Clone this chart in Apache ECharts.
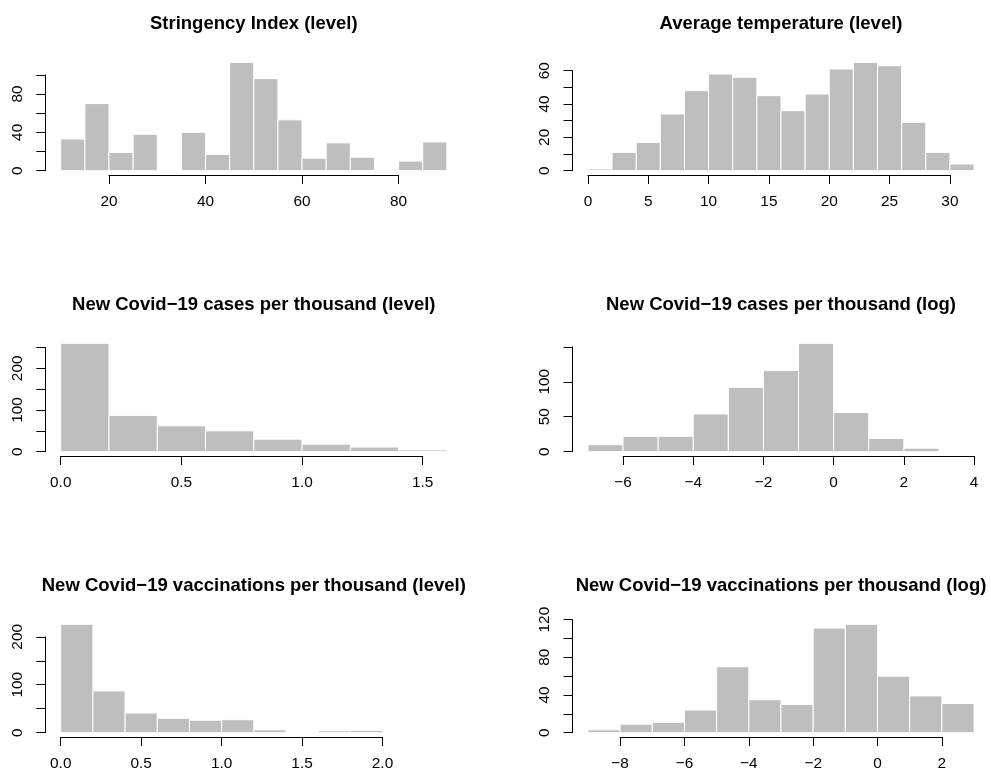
<!DOCTYPE html>
<html><head><meta charset="utf-8">
<script src="https://cdn.jsdelivr.net/npm/echarts@6/dist/echarts.min.js"></script>
<style>html,body{margin:0;padding:0;background:#fff}#chart{width:991px;height:779px}</style>
</head><body><div id="chart"></div>
<script>
// ---------------- data ----------------
const stringencyBreaks = [10,15,20,25,30,35,40,45,50,55,60,65,70,75,80,85,90];
const stringencyCounts = [33,70,19,38,0,40,17,113,96,53,13,29,14,0,10,30];
const stringencyXTicks = [20,40,60,80];
const stringencyYTicks = [0,20,40,60,80,100];
const stringencyYLabels = [0,40,80];

const temperatureBreaks = [0,2,4,6,8,10,12,14,16,18,20,22,24,26,28,30,32];
const temperatureCounts = [1,11,17,34,48,58,56,45,36,46,61,65,63,29,11,4];
const temperatureXTicks = [0,5,10,15,20,25,30];
const temperatureYTicks = [0,10,20,30,40,50,60];
const temperatureYLabels = [0,20,40,60];

const casesLevelBreaks = [0,0.2,0.4,0.6,0.8,1.0,1.2,1.4,1.6];
const casesLevelCounts = [260,87,62,50,30,18,11,4];
const casesLevelXTicks = [0,0.5,1.0,1.5];
const casesLevelYTicks = [0,50,100,150,200,250];
const casesLevelYLabels = [0,100,200];

const casesLogBreaks = [-7,-6,-5,-4,-3,-2,-1,0,1,2,3,4];
const casesLogCounts = [10,22,22,54,92,116,155,56,19,5,0];
const casesLogXTicks = [-6,-4,-2,0,2,4];
const casesLogYTicks = [0,50,100,150];
const casesLogYLabels = [0,50,100];

const vaccLevelBreaks = [0,0.2,0.4,0.6,0.8,1.0,1.2,1.4,1.6,1.8,2.0,2.2,2.4];
const vaccLevelCounts = [226,87,41,30,26,27,6,0,4,5,0,1];
const vaccLevelXTicks = [0,0.5,1.0,1.5,2.0];
const vaccLevelYTicks = [0,50,100,150,200];
const vaccLevelYLabels = [0,100,200];

const vaccLogBreaks = [-9,-8,-7,-6,-5,-4,-3,-2,-1,0,1,2,3];
const vaccLogCounts = [3,9,11,24,70,35,30,111,115,60,39,31];
const vaccLogXTicks = [-8,-6,-4,-2,0,2];
const vaccLogYTicks = [0,20,40,60,80,100,120];
const vaccLogYLabels = [0,40,80,120];

const titles = [
  'Stringency Index (level)',
  'Average temperature (level)',
  'New Covid\u221219 cases per thousand (level)',
  'New Covid\u221219 cases per thousand (log)',
  'New Covid\u221219 vaccinations per thousand (level)',
  'New Covid\u221219 vaccinations per thousand (log)'
];

// ---------------- layout ----------------
const FONT = "'Liberation Sans', Arial, Helvetica, sans-serif";
const COL_LEFT = [45.3, 572.5];
const REGION_W = 417;
const REGION_H = 117;
const ROW_BOTTOM = [175, 456, 737];
const TITLE_TOP = [14, 295, 576];

const fmtInt = v => (v < 0 ? '\u2212' + Math.abs(v) : String(v));
const fmt1 = v => v.toFixed(1);

const panels = [
  {breaks: stringencyBreaks, counts: stringencyCounts, xt: stringencyXTicks, yt: stringencyYTicks, yl: stringencyYLabels, fx: fmtInt},
  {breaks: temperatureBreaks, counts: temperatureCounts, xt: temperatureXTicks, yt: temperatureYTicks, yl: temperatureYLabels, fx: fmtInt},
  {breaks: casesLevelBreaks, counts: casesLevelCounts, xt: casesLevelXTicks, yt: casesLevelYTicks, yl: casesLevelYLabels, fx: fmt1},
  {breaks: casesLogBreaks, counts: casesLogCounts, xt: casesLogXTicks, yt: casesLogYTicks, yl: casesLogYLabels, fx: fmtInt},
  {breaks: vaccLevelBreaks, counts: vaccLevelCounts, xt: vaccLevelXTicks, yt: vaccLevelYTicks, yl: vaccLevelYLabels, fx: fmt1},
  {breaks: vaccLogBreaks, counts: vaccLogCounts, xt: vaccLogXTicks, yt: vaccLogYTicks, yl: vaccLogYLabels, fx: fmtInt}
];

const option = {animation: false, backgroundColor: '#fff', title: [], grid: [], xAxis: [], yAxis: [], series: []};
const lineStyle = {color: '#000', width: 1};

panels.forEach((p, i) => {
  const col = i % 2, row = Math.floor(i / 2);
  const L = COL_LEFT[col], B = ROW_BOTTOM[row], W = REGION_W, H = REGION_H, T = B - H;
  const x0 = p.breaks[0], x1 = p.breaks[p.breaks.length - 1];
  const xe = 0.04 * (x1 - x0);
  const xmin = x0 - xe, xmax = x1 + xe;
  const ymax = Math.max(...p.counts);
  const ye = 0.04 * ymax;
  const ymin = -ye, ytop = ymax + ye;

  option.title.push({
    text: titles[i], left: L + W / 2, top: TITLE_TOP[row], textAlign: 'center', padding: 0,
    textStyle: {fontFamily: FONT, fontSize: 18.5, fontWeight: 'bold', color: '#000'}
  });

  // grid for the bars (plot region)
  const gBars = option.grid.length;
  option.grid.push({left: L, top: T, width: W, height: H, containLabel: false});
  option.xAxis.push({type: 'value', gridIndex: gBars, min: xmin, max: xmax, show: false});
  option.yAxis.push({type: 'value', gridIndex: gBars, min: ymin, max: ytop, show: false});
  option.series.push({
    type: 'custom', xAxisIndex: gBars, yAxisIndex: gBars, clip: false,
    data: p.counts.map((c, k) => [p.breaks[k], p.breaks[k + 1], c]),
    encode: {x: [0, 1], y: 2},
    renderItem: (params, api) => {
      const a = api.coord([api.value(0), 0]);
      const b = api.coord([api.value(1), api.value(2)]);
      return {type: 'rect', shape: {x: a[0], y: b[1], width: b[0] - a[0], height: a[1] - b[1]},
        style: {fill: '#BEBEBE', stroke: '#FFFFFF', lineWidth: 1}};
    }
  });

  // grid for x axis (spans tick range only)
  const xt0 = p.xt[0], xt1 = p.xt[p.xt.length - 1];
  const gx = option.grid.length;
  option.grid.push({left: L + (xt0 - xmin) / (xmax - xmin) * W, width: (xt1 - xt0) / (xmax - xmin) * W, top: T, height: H});
  option.xAxis.push({
    type: 'value', gridIndex: gx, min: xt0, max: xt1, interval: p.xt[1] - p.xt[0], position: 'bottom',
    axisLine: {show: true, lineStyle}, axisTick: {show: true, length: 9, inside: false, lineStyle},
    splitLine: {show: false}, showMinLabel: true, showMaxLabel: true,
    axisLabel: {color: '#000', fontFamily: FONT, fontSize: 15.4, margin: 19, formatter: p.fx}
  });
  option.yAxis.push({type: 'value', gridIndex: gx, min: 0, max: 1, show: false});

  // grid for y axis (spans 0..top tick)
  const yt1 = p.yt[p.yt.length - 1];
  const yr = ytop - ymin;
  const zeroPx = B - (0 - ymin) / yr * H;
  const hgt = yt1 / yr * H;
  const gy = option.grid.length;
  option.grid.push({left: L, width: W, top: zeroPx - hgt, height: hgt});
  option.xAxis.push({type: 'value', gridIndex: gy, min: 0, max: 1, show: false});
  option.yAxis.push({
    type: 'value', gridIndex: gy, min: 0, max: yt1, interval: p.yt[1] - p.yt[0], position: 'left',
    axisLine: {show: true, lineStyle}, axisTick: {show: true, length: 9, inside: false, lineStyle},
    splitLine: {show: false}, showMinLabel: true, showMaxLabel: true,
    axisLabel: {color: '#000', fontFamily: FONT, fontSize: 15.4, margin: 20, rotate: 90,
      formatter: v => (p.yl.some(l => Math.abs(l - v) < 1e-9) ? String(v) : '')}
  });
});

const chart = echarts.init(document.getElementById('chart'), null, {renderer: 'canvas'});
chart.setOption(option);
</script>
</body></html>
